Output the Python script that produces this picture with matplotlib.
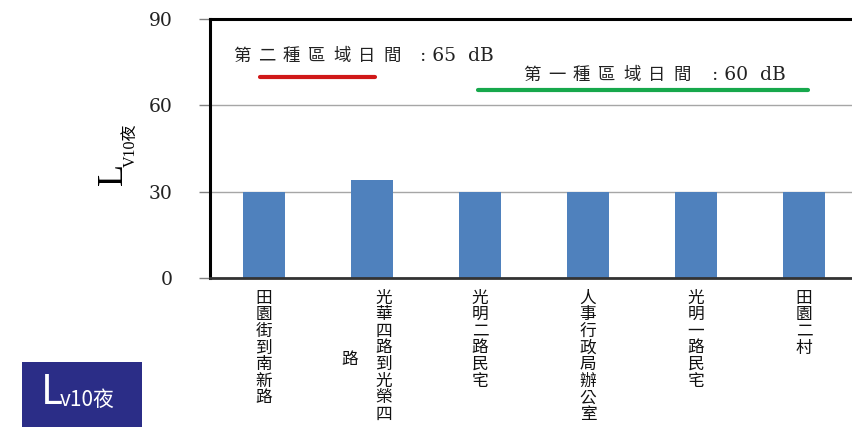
import matplotlib
matplotlib.use('Agg')
import matplotlib.pyplot as plt
from matplotlib.patches import Rectangle
import matplotlib.transforms as mtransforms

plt.rcParams['font.family'] = ['Liberation Serif', 'Noto Sans CJK TC', 'DejaVu Sans']

# data
sites = ['田園街到南新路', '光華四路到光榮四路', '光明二路民宅',
         '人事行政局辦公室', '光明一路民宅', '田園二村']
lv10_night = [30, 34, 30, 30, 30, 30]
yticks = [0, 30, 60, 90]
std2_name, std2_value = '第二種區域日間', ': 65  dB'
std1_name, std1_value = '第一種區域日間', ': 60  dB'
std2_level = 70
std1_level = 65.2

fig = plt.figure(figsize=(8.53, 4.34), dpi=100)
ax = fig.add_axes([210/853, 156/434, 648/853, 259/434])

x = list(range(len(sites)))
ax.bar(x, lv10_night, width=0.39, color='#4F81BD', zorder=2)
ax.set_xlim(-0.5, len(sites) - 0.5)
ax.set_ylim(0, 90)
ax.set_yticks(yticks)
ax.set_xticks([])
ax.yaxis.grid(True, color='#A6A6A6', linewidth=1.0, zorder=0)
ax.tick_params(axis='y', direction='out', length=8, width=1, color='#808080',
               pad=19, labelsize=13.5)
for lab in ax.get_yticklabels():
    lab.set_family('DejaVu Serif')
    lab.set_color('#222222')
for s in ['left', 'top']:
    ax.spines[s].set_linewidth(2.2)
ax.spines['bottom'].set_linewidth(2)
ax.spines['bottom'].set_color('#333333')
ax.spines['right'].set_visible(False)

# standard lines + labels
ax.plot([-0.04, 1.03], [std2_level, std2_level], color='#D01818', lw=3,
        solid_capstyle='round', zorder=3)
ax.plot([1.98, 5.04], [std1_level, std1_level], color='#17A84C', lw=3,
        solid_capstyle='round', zorder=3)

pitch = 25 / 108  # spacing of the wide CJK glyphs, in bar units


def spread_label(x0, y, name, value, gap):
    for k, ch in enumerate(name):
        ax.text(x0 + k * pitch, y, ch, fontsize=12.5, va='center', ha='left',
                family='Noto Sans CJK TC', color='#222222')
    ax.text(x0 + len(name) * pitch + gap, y, value, fontsize=13.5, va='center',
            ha='left', family='DejaVu Serif', color='#222222')


spread_label(-0.287, 77.3, std2_name, std2_value, 0.11)
spread_label(2.398, 70.5, std1_name, std1_value, 0.13)

# vertical category labels (columns of max 8 chars, right to left)
trans = mtransforms.blended_transform_factory(ax.transData, ax.transAxes)
lab_kw = dict(transform=trans, ha='center', va='top', fontsize=12,
              linespacing=0.97, family='Noto Sans CJK TC', color='#111111')
for i, name in enumerate(sites):
    cols = [name[k:k+8] for k in range(0, len(name), 8)]
    if len(cols) == 1:
        ax.text(i, -0.045, '\n'.join(cols[0]), **lab_kw)
    else:
        ax.text(i + 0.11, -0.045, '\n'.join(cols[0]), **lab_kw)
        ax.text(i - 0.21, -0.28, '\n'.join(cols[1]), **lab_kw)

# y label
fig.text(114/853, 1 - 174/434, 'L', rotation=90, fontsize=26, ha='center', va='center',
         family='Liberation Serif')
fig.text(131/853, 1 - 145/434, 'V10夜', rotation=90, fontsize=11.5, ha='center', va='center',
         family=['Liberation Serif', 'Noto Sans CJK TC'])

# badge
fig.patches.append(Rectangle((22/853, 7/434), 120/853, 65/434, transform=fig.transFigure,
                             facecolor='#2B2D87', edgecolor='none'))
fig.text(41/853, 1 - 393/434, 'L', color='white', fontsize=29, ha='left', va='center',
         family='Noto Sans CJK TC', fontweight='light')
fig.text(60/853, 1 - 400/434, 'v10夜', color='white', fontsize=15, ha='left', va='center',
         family='Noto Sans CJK TC', fontweight='light')

fig.savefig('out.png', dpi=100)
